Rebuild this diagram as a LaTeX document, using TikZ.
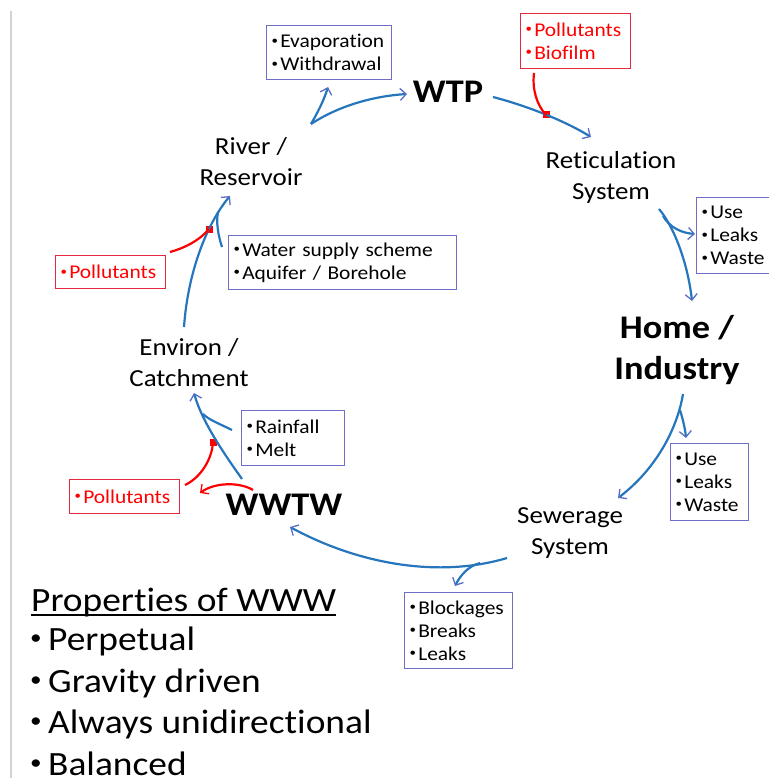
\documentclass[tikz,border=0pt]{standalone}
\usepackage{fontspec}
\setmainfont{Carlito}[FakeStretch=1.1,Ligatures=NoCommon]
\usetikzlibrary{arrows.meta}
\definecolor{flow}{RGB}{38,118,190}
\definecolor{tipc}{RGB}{90,110,200}
\definecolor{boxc}{RGB}{110,110,200}
\definecolor{redc}{RGB}{255,0,0}
\definecolor{redb}{RGB}{230,40,60}
\newcommand\bul{\raisebox{.17em}{\scalebox{.6}{•}}\hspace{.12em}}
\newcommand\bigbul{\makebox[18pt][l]{\raisebox{.17em}{\scalebox{.62}{•}}}}
\begin{document}
\begin{tikzpicture}[x=1pt,y=-1pt,
 flowline/.style={draw=flow,line width=2.2pt},
 flowarrow/.style={flowline,-{Straight Barb[length=6pt,width=12pt,line width=1.3pt,color=tipc]}},
 redline/.style={draw=redc,line width=2.2pt},
 redarrow/.style={redline,-{Straight Barb[length=6pt,width=12pt,line width=1.3pt]}},
 infobox/.style={draw=boxc,line width=1pt,anchor=north west,align=left,inner xsep=5pt,inner ysep=0pt,font=\fontsize{19.5}{23}\selectfont},
 redinfo/.style={infobox,draw=redb,text=redc},
 stage/.style={align=center,inner sep=0pt,font=\fontsize{24.5}{31}\selectfont},
 keystage/.style={align=center,inner sep=0pt,font=\bfseries\fontsize{33}{41}\selectfont},
 reddot/.style={fill=redc,inner sep=0pt,minimum size=7pt},
 prop/.style={anchor=base west,inner sep=0pt,font=\fontsize{34}{41}\selectfont}]

\useasboundingbox (0,0) rectangle (768,778);
\fill[white] (0,0) rectangle (768,778);
\coordinate (gtop) at (11,11);
\coordinate (gbot) at (11,778);
\draw[draw=gray!35,line width=2pt] (gtop) -- (gbot);

% stages
\node[keystage] (wtp) at (448,92) {WTP};
\node[stage] (retic) at (611,177) {Reticulation\\System};
\node[keystage] (home) at (677,350) {Home /\\Industry};
\node[stage] (sewer) at (570,533) {Sewerage\\System};
\node[keystage] (wwtw) at (284,505) {WWTW};
\node[stage] (environ) at (189,363) {Environ /\\Catchment};
\node[stage] (river) at (251,162) {River /\\Reservoir};

% boxes
\node[infobox,text width=115pt,minimum height=54pt] (evap) at (266,25) {\bul Evaporation\\\bul Withdrawal};
\node[redinfo,text width=100pt,minimum height=55pt] (pollA) at (520,13) {\bul Pollutants\\\bul Biofilm};
\node[infobox,text width=80pt,minimum height=76pt] (use1) at (696,197) {\bul Use\\\bul Leaks\\\bul Waste};
\node[infobox,text width=68pt,minimum height=77pt] (use2) at (670,443) {\bul Use\\\bul Leaks\\\bul Waste};
\node[infobox,text width=98pt,minimum height=76pt] (block) at (404,592) {\bul Blockages\\\bul Breaks\\\bul Leaks};
\node[redinfo,text width=100pt,minimum height=34pt] (pollB) at (69,479) {\mbox{\bul Pollutants}};
\node[infobox,text width=93pt,minimum height=55pt] (rain) at (241,410) {\bul Rainfall\\\bul Melt};
\node[redinfo,text width=100pt,minimum height=33pt] (pollC) at (55,255) {\mbox{\bul Pollutants}};
\node[infobox,text width=218pt,minimum height=54pt] (supply) at (228,235) {\bul Water supply scheme\\\bul Aquifer / Borehole};

% red dots
\node[reddot] (d1) at (546,115) {};
\node[reddot] (d2) at (213,442) {};
\node[reddot] (d3) at (209,229) {};

% connection points
\coordinate (rvOut) at (311,124);
\coordinate (wtpIn) at (407,94);
\coordinate (evIn) at (328,87);
\coordinate (wtpOut) at (493,97);
\coordinate (rtIn) at (591,137);
\coordinate (pAout) at (534,73);
\coordinate (rtOut) at (659,209);
\coordinate (rtBr) at (663,216);
\coordinate (hmIn) at (692,301);
\coordinate (u1In) at (695,234);
\coordinate (hmOut) at (683,394);
\coordinate (hmBr) at (680,410);
\coordinate (u2In) at (686,438);
\coordinate (swIn) at (618,498);
\coordinate (swOut) at (507,558);
\coordinate (swBr) at (480,563);
\coordinate (blIn) at (455,586);
\coordinate (wwIn) at (290,527);
\coordinate (wwOut) at (242,479);
\coordinate (enIn) at (194,393);
\coordinate (rnOut) at (232,430);
\coordinate (rnJoin) at (203,414);
\coordinate (pBout) at (185,485);
\coordinate (wwRed) at (253,490);
\coordinate (pBin) at (200,493);
\coordinate (enOut) at (184,327);
\coordinate (rvIn) at (230,196);
\coordinate (suOut) at (222,247);
\coordinate (suJoin) at (218,212);
\coordinate (pCout) at (170,252);

% flows
\draw[flowarrow] (rvOut) .. controls (340,105) and (375,96) .. (wtpIn);
\draw[flowarrow] (rvOut) .. controls (318,112) and (324,100) .. (evIn);
\draw[flowarrow] (wtpOut) .. controls (520,104) and (560,118) .. (rtIn);
\draw[redline] (pAout) .. controls (532,90) and (537,105) .. (d1.center);
\draw[flowarrow] (rtOut) .. controls (675,228) and (688,265) .. (hmIn);
\draw[flowarrow] (rtBr) .. controls (670,228) and (682,233) .. (u1In);
\draw[flowarrow] (hmOut) .. controls (677,430) and (655,470) .. (swIn);
\draw[flowarrow] (hmBr) .. controls (683,420) and (685,428) .. (u2In);
\draw[flowarrow] (swOut) .. controls (440,578) and (360,565) .. (wwIn);
\draw[flowarrow] (swBr) .. controls (468,566) and (460,576) .. (blIn);
\draw[flowarrow] (wwOut) .. controls (225,455) and (202,422) .. (enIn);
\draw[flowline] (rnOut) .. controls (220,424) and (209,420) .. (rnJoin);
\draw[redline] (pBout) .. controls (200,478) and (212,460) .. (d2.center);
\draw[redarrow] (wwRed) .. controls (240,482) and (215,482) .. (pBin);
\draw[flowarrow] (enOut) .. controls (188,270) and (208,222) .. (rvIn);
\draw[flowline] (suOut) .. controls (218,235) and (216,222) .. (suJoin);
\draw[redline] (pCout) .. controls (185,248) and (200,240) .. (d3.center);

% properties
\node[prop] (title) at (31,611) {Properties of WWW};
\draw[line width=1.6pt] ([yshift=-4pt]title.base west) -- ([yshift=-4pt]title.base east);
\node[prop] (b1) at (30,650) {\bigbul Perpetual};
\node[prop] (b2) at (30,692) {\bigbul Gravity driven};
\node[prop] (b3) at (30,733) {\bigbul Always unidirectional};
\node[prop] (b4) at (30,775) {\bigbul Balanced};
\end{tikzpicture}
\end{document}
